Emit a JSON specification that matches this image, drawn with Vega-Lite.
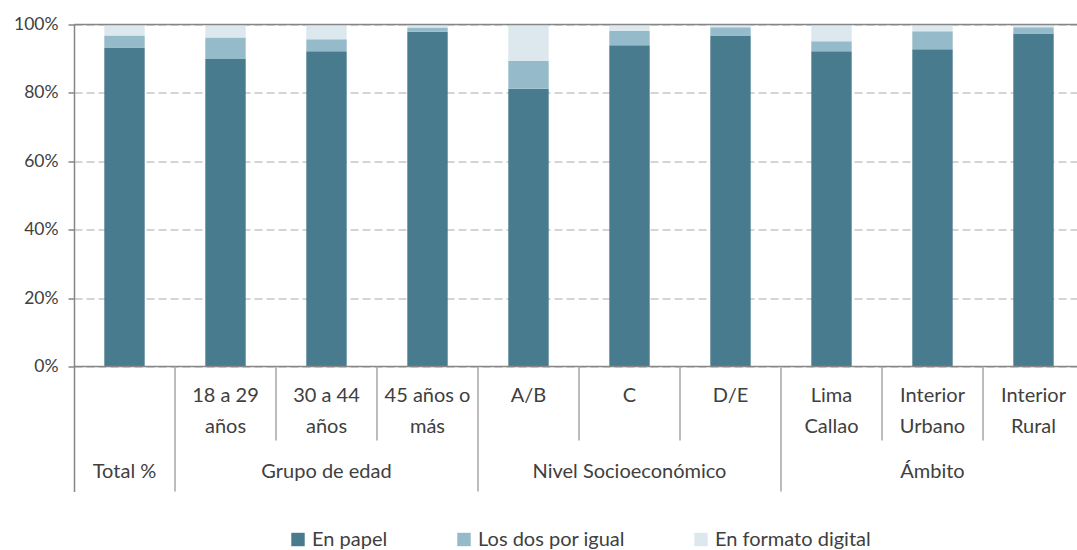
{
  "$schema": "https://vega.github.io/schema/vega-lite/v6.json",
  "width": 1010,
  "height": 467,
  "autosize": {"type": "none"},
  "padding": {"left": 74, "top": 24.5, "right": 0, "bottom": 58.5},
  "config": {"view": {"stroke": null}, "font": "Lato", "legend": {"layout": {"bottom": {"anchor": "middle"}}}},
  "datasets": {
    "bars": [
      {"cat": "Total", "serie": "En papel", "pct": 93.3},
      {"cat": "Total", "serie": "Los dos por igual", "pct": 3.5},
      {"cat": "Total", "serie": "En formato digital", "pct": 3.2},
      {"cat": "18-29", "serie": "En papel", "pct": 89.9},
      {"cat": "18-29", "serie": "Los dos por igual", "pct": 6.3},
      {"cat": "18-29", "serie": "En formato digital", "pct": 3.8},
      {"cat": "30-44", "serie": "En papel", "pct": 92.2},
      {"cat": "30-44", "serie": "Los dos por igual", "pct": 3.5},
      {"cat": "30-44", "serie": "En formato digital", "pct": 4.3},
      {"cat": "45+", "serie": "En papel", "pct": 97.9},
      {"cat": "45+", "serie": "Los dos por igual", "pct": 1.2},
      {"cat": "45+", "serie": "En formato digital", "pct": 0.9},
      {"cat": "AB", "serie": "En papel", "pct": 81.2},
      {"cat": "AB", "serie": "Los dos por igual", "pct": 8.1},
      {"cat": "AB", "serie": "En formato digital", "pct": 10.7},
      {"cat": "C", "serie": "En papel", "pct": 93.9},
      {"cat": "C", "serie": "Los dos por igual", "pct": 4.2},
      {"cat": "C", "serie": "En formato digital", "pct": 1.9},
      {"cat": "DE", "serie": "En papel", "pct": 96.8},
      {"cat": "DE", "serie": "Los dos por igual", "pct": 2.4},
      {"cat": "DE", "serie": "En formato digital", "pct": 0.8},
      {"cat": "Lima", "serie": "En papel", "pct": 92.2},
      {"cat": "Lima", "serie": "Los dos por igual", "pct": 2.9},
      {"cat": "Lima", "serie": "En formato digital", "pct": 4.9},
      {"cat": "IntUrb", "serie": "En papel", "pct": 92.8},
      {"cat": "IntUrb", "serie": "Los dos por igual", "pct": 5.2},
      {"cat": "IntUrb", "serie": "En formato digital", "pct": 2.0},
      {"cat": "IntRural", "serie": "En papel", "pct": 97.4},
      {"cat": "IntRural", "serie": "Los dos por igual", "pct": 1.8},
      {"cat": "IntRural", "serie": "En formato digital", "pct": 0.8}
    ],
    "labels": [
      {"cat": "18-29", "l1": "18 a 29", "l2": "años"},
      {"cat": "30-44", "l1": "30 a 44", "l2": "años"},
      {"cat": "45+", "l1": "45 años o", "l2": "más"},
      {"cat": "AB", "l1": "A/B", "l2": ""},
      {"cat": "C", "l1": "C", "l2": ""},
      {"cat": "DE", "l1": "D/E", "l2": ""},
      {"cat": "Lima", "l1": "Lima", "l2": "Callao"},
      {"cat": "IntUrb", "l1": "Interior", "l2": "Urbano"},
      {"cat": "IntRural", "l1": "Interior", "l2": "Rural"}
    ],
    "groups": [
      {"cat": "Total", "label": "Total %"},
      {"cat": "30-44", "label": "Grupo de edad"},
      {"cat": "C", "label": "Nivel Socioeconómico"},
      {"cat": "IntUrb", "label": "Ámbito"}
    ],
    "seps": [
      {"cat": "18-29", "kind": "long"},
      {"cat": "30-44", "kind": "short"},
      {"cat": "45+", "kind": "short"},
      {"cat": "AB", "kind": "long"},
      {"cat": "C", "kind": "short"},
      {"cat": "DE", "kind": "short"},
      {"cat": "Lima", "kind": "long"},
      {"cat": "IntUrb", "kind": "short"},
      {"cat": "IntRural", "kind": "short"}
    ]
  },
  "layer": [
    {
      "data": {"name": "bars"},
      "transform": [
        {"calculate": "indexof(['En papel','Los dos por igual','En formato digital'], datum.serie)", "as": "o"}
      ],
      "mark": {"type": "bar", "width": {"band": 0.4}},
      "encoding": {
        "x": {
          "field": "cat", "type": "nominal", "axis": null,
          "scale": {"domain": ["Total", "18-29", "30-44", "45+", "AB", "C", "DE", "Lima", "IntUrb", "IntRural"], "paddingInner": 0, "paddingOuter": 0}
        },
        "y": {
          "field": "pct", "type": "quantitative", "stack": "zero",
          "scale": {"domain": [-36.5, 100], "nice": false, "zero": false},
          "axis": {
            "values": [0, 20, 40, 60, 80, 100],
            "labelExpr": "datum.value + '%'",
            "title": null,
            "grid": true,
            "gridDash": [8, 4],
            "gridColor": "#D4D4D4",
            "gridWidth": 2,
            "domainColor": "#868686",
            "domainWidth": 1.5,
            "tickColor": "#868686",
            "tickSize": 6,
            "tickWidth": 1.5,
            "labelFontSize": 17.5,
            "labelColor": "#404040",
            "labelPadding": 10
          }
        },
        "color": {
          "field": "serie", "type": "nominal",
          "scale": {"domain": ["En papel", "Los dos por igual", "En formato digital"], "range": ["#487B8E", "#95BBCA", "#DCE8ED"]},
          "legend": {
            "orient": "bottom", "direction": "horizontal", "title": null,
            "symbolType": "square", "symbolSize": 180, "symbolStrokeWidth": 0,
            "labelFontSize": 20, "labelColor": "#404040", "columnPadding": 66, "offset": 38
          }
        },
        "order": {"field": "o", "type": "quantitative"}
      }
    },
    {
      "data": {"values": [{"v": 0}, {"v": 100}]},
      "mark": {"type": "rule", "color": "#868686", "strokeWidth": 1.5},
      "encoding": {"y": {"field": "v", "type": "quantitative"}}
    },
    {
      "data": {"name": "seps"},
      "transform": [{"filter": "datum.kind == 'short'"}],
      "mark": {"type": "rule", "color": "#A6A6A6", "strokeWidth": 1.5},
      "encoding": {
        "x": {"field": "cat", "type": "nominal", "bandPosition": 0, "axis": null},
        "y": {"datum": 0},
        "y2": {"datum": -21.6}
      }
    },
    {
      "data": {"name": "seps"},
      "transform": [{"filter": "datum.kind == 'long'"}],
      "mark": {"type": "rule", "color": "#A6A6A6", "strokeWidth": 1.5},
      "encoding": {
        "x": {"field": "cat", "type": "nominal", "bandPosition": 0, "axis": null},
        "y": {"datum": 0},
        "y2": {"datum": -36.5}
      }
    },
    {
      "data": {"name": "labels"},
      "mark": {"type": "text", "fontSize": 20, "color": "#404040", "baseline": "middle", "align": "center"},
      "encoding": {
        "x": {"field": "cat", "type": "nominal", "axis": null},
        "y": {"datum": -8.5},
        "text": {"field": "l1"}
      }
    },
    {
      "data": {"name": "labels"},
      "mark": {"type": "text", "fontSize": 20, "color": "#404040", "baseline": "middle", "align": "center"},
      "encoding": {
        "x": {"field": "cat", "type": "nominal", "axis": null},
        "y": {"datum": -17.6},
        "text": {"field": "l2"}
      }
    },
    {
      "data": {"name": "groups"},
      "mark": {"type": "text", "fontSize": 20, "color": "#404040", "baseline": "middle", "align": "center"},
      "encoding": {
        "x": {"field": "cat", "type": "nominal", "axis": null},
        "y": {"datum": -30.7},
        "text": {"field": "label"}
      }
    }
  ]
}
